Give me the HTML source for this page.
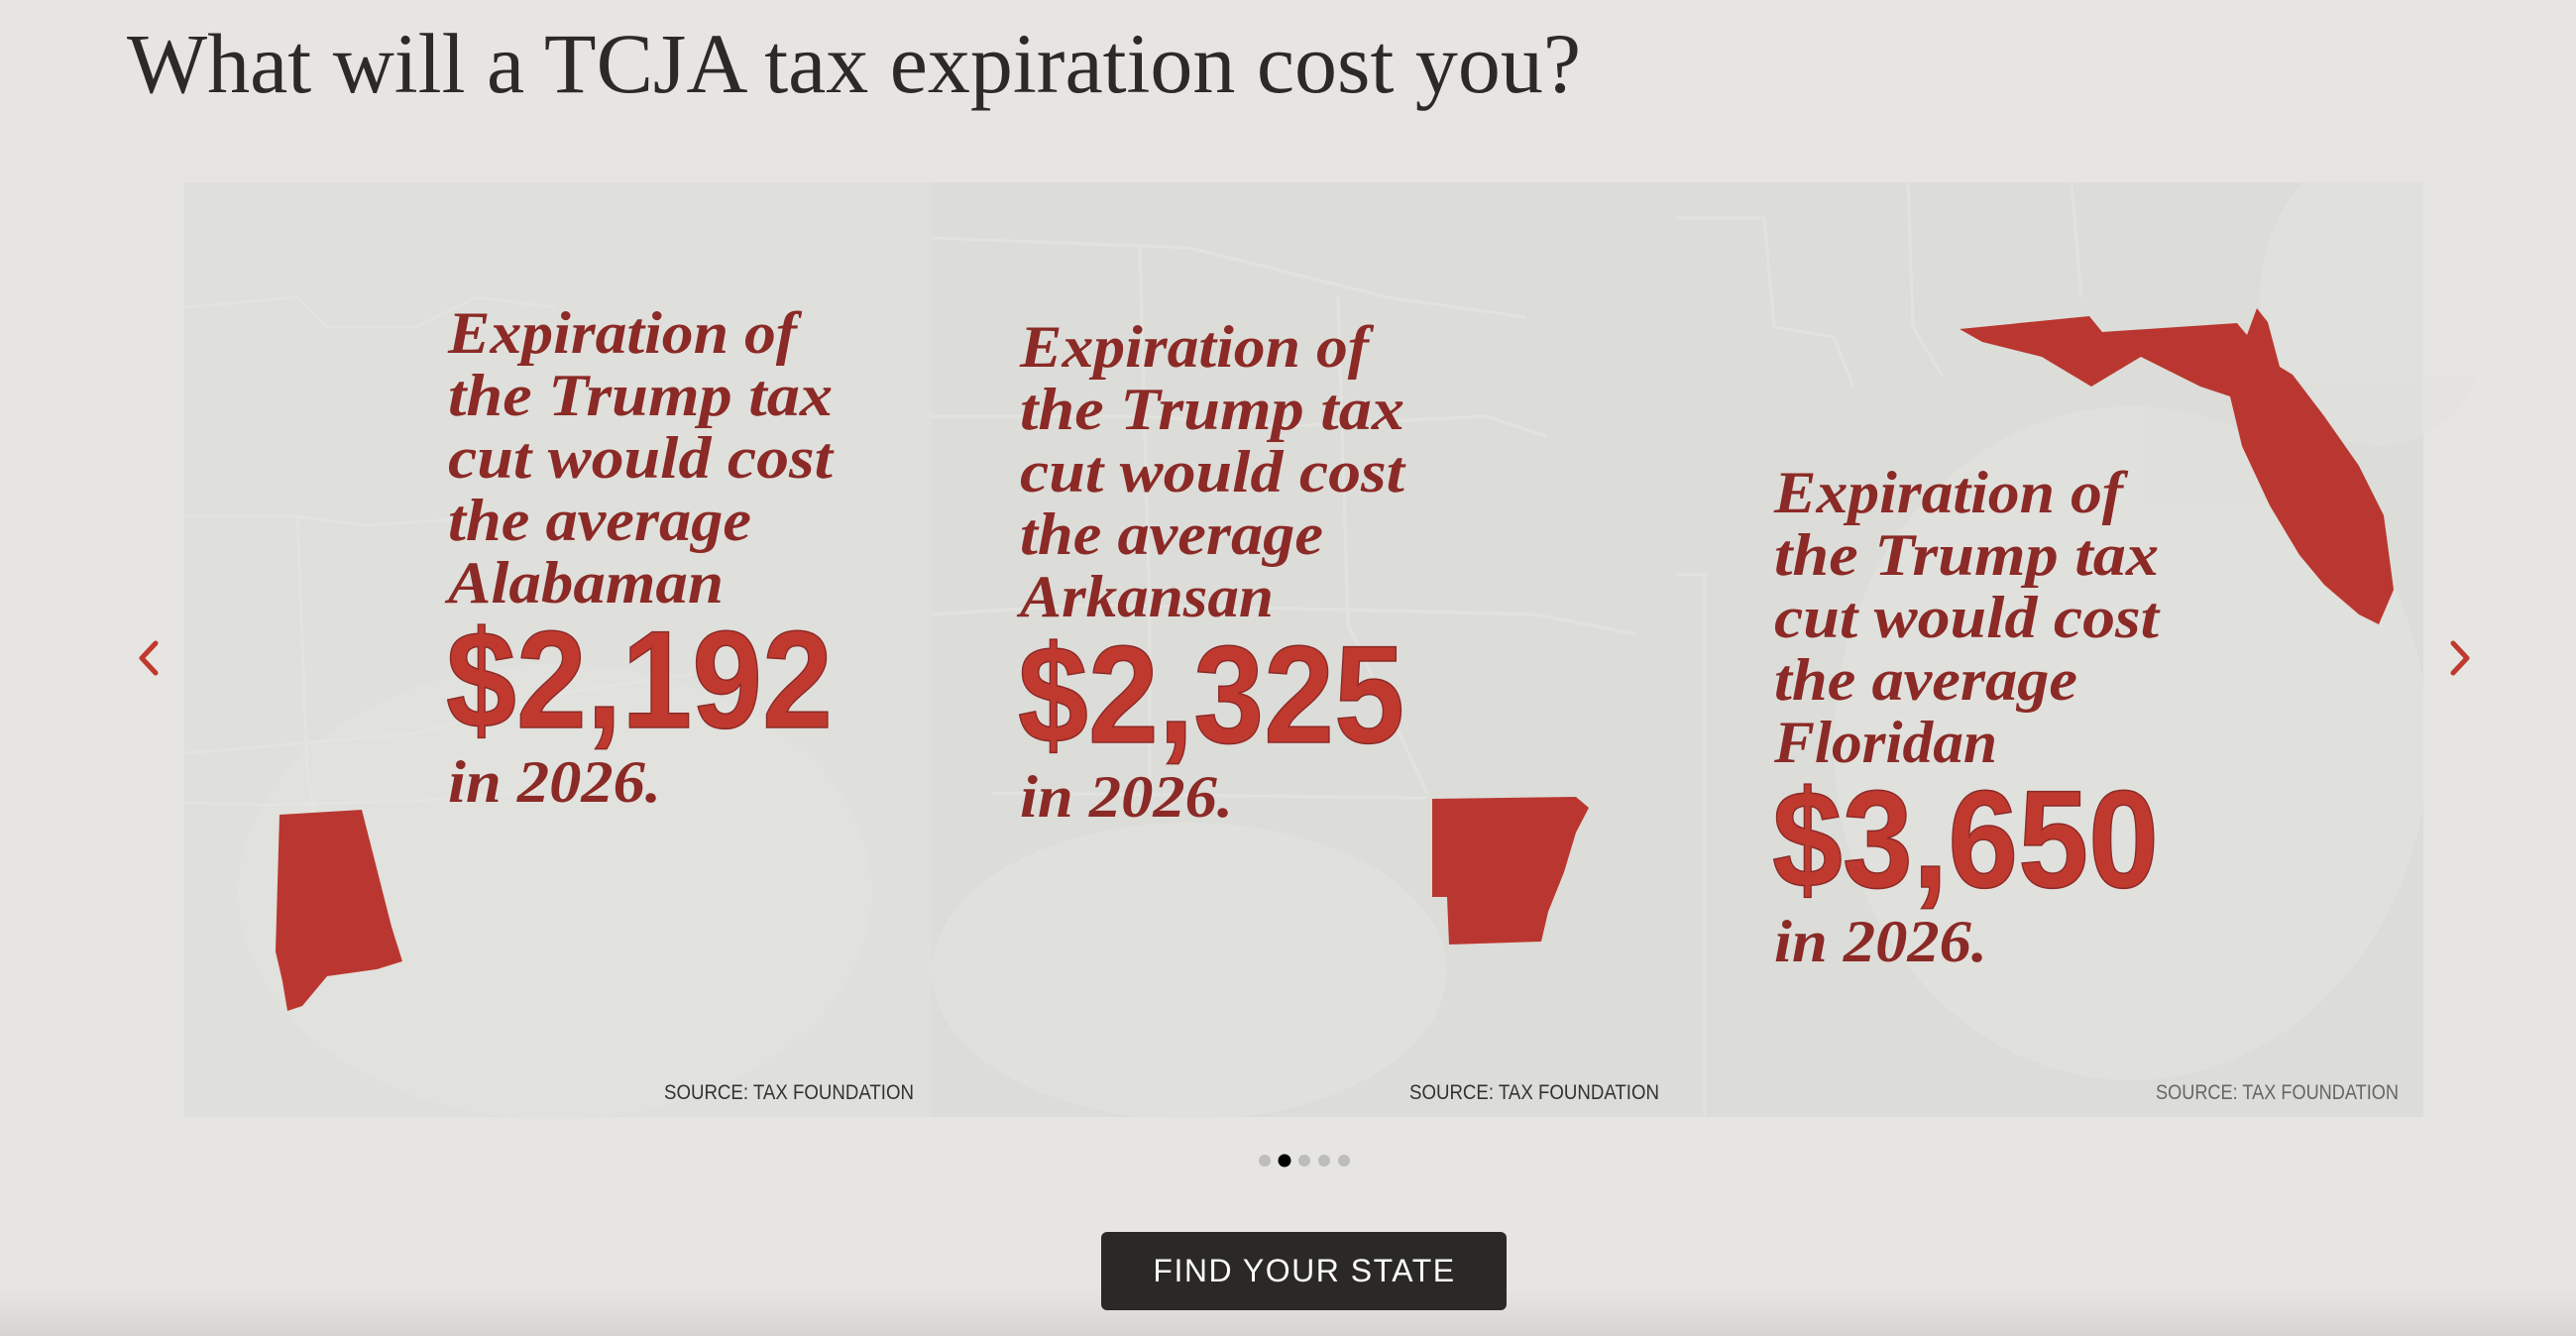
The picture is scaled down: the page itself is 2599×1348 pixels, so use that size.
<!DOCTYPE html>
<html><head><meta charset="utf-8"><style>
html,body{margin:0;padding:0;background:#e6e5e1;}
svg{display:block}
</style></head><body>
<svg width="2599" height="1348" viewBox="0 0 2599 1348" xmlns="http://www.w3.org/2000/svg">
<defs>
<linearGradient id="bot" x1="0" y1="0" x2="0" y2="1"><stop offset="0" stop-color="#e6e5e1"/><stop offset="1" stop-color="#d6d5d1"/></linearGradient>
</defs>
<rect width="2599" height="1348" fill="#e6e5e1"/>
<rect y="1300" width="2599" height="48" fill="url(#bot)"/>
<text x="128" y="93" font-family="Liberation Serif, serif" font-size="86" fill="#2b2a27" textLength="1467" lengthAdjust="spacingAndGlyphs">What will a TCJA tax expiration cost you?</text>

<!-- cards -->
<rect x="186" y="184" width="754" height="943" fill="#dfdfdb"/>
<rect x="940" y="184" width="752" height="943" fill="#dcdcd8"/>
<rect x="1692" y="184" width="753" height="943" fill="#dcdcd8"/>
<g fill="#e3e3df" opacity="0.5">
<ellipse cx="560" cy="900" rx="320" ry="230"/>
<ellipse cx="1200" cy="980" rx="260" ry="150"/>
<ellipse cx="2150" cy="750" rx="300" ry="340"/>
<ellipse cx="2400" cy="300" rx="120" ry="150"/>
</g>
<g stroke="#e6e6e3" stroke-width="3" fill="none" opacity="0.6">
<polyline points="186,310 300,300 330,330 420,330 480,300 560,310"/>
<polyline points="186,520 290,520 370,530 520,520"/>
<polyline points="300,520 310,780 330,900"/>
<polyline points="186,760 420,740 560,700 700,680"/>
<polyline points="186,810 270,812 420,808 520,800"/>
<polyline points="940,240 1200,250 1400,300 1540,320"/>
<polyline points="940,420 1150,420 1300,430 1500,420 1560,440"/>
<polyline points="940,620 1100,610 1350,615 1550,620 1650,640"/>
<polyline points="1150,250 1160,620 1160,800"/>
<polyline points="1350,300 1360,630 1440,800"/>
<polyline points="1000,800 1440,805"/>
<polyline points="1692,220 1780,220 1790,330 1850,340 1870,390"/>
<polyline points="1925,184 1930,330 1960,380"/>
<polyline points="2090,184 2100,300"/>
<polyline points="1692,580 1720,580 1720,1127"/>
</g>

<!-- states -->
<g fill="#b93730">
<polygon points="282,822 365,817 395,935 406,970 380,978 330,985 305,1015 290,1020 285,990 278,960"/>
<polygon points="1445,806 1590,804 1603,815 1590,840 1578,880 1562,920 1555,950 1462,953 1460,905 1445,905"/>
<polygon points="1977,332 2108,319 2121,335 2257,326 2267,338 2277,311 2288,325 2300,370 2313,378 2345,420 2380,470 2405,520 2415,595 2400,630 2380,620 2345,590 2320,560 2290,510 2262,450 2250,400 2220,390 2160,360 2110,390 2060,360 2000,345"/>
</g>

<!-- card text -->
<g font-family="Liberation Serif, serif" font-style="italic" font-weight="bold" font-size="60" fill="#8b2a26">
<text x="452" y="356" textLength="352" lengthAdjust="spacingAndGlyphs">Expiration of</text>
<text x="452" y="419" textLength="388" lengthAdjust="spacingAndGlyphs">the Trump tax</text>
<text x="452" y="482" textLength="388" lengthAdjust="spacingAndGlyphs">cut would cost</text>
<text x="452" y="545" textLength="306" lengthAdjust="spacingAndGlyphs">the average</text>
<text x="452" y="608" textLength="278" lengthAdjust="spacingAndGlyphs">Alabaman</text>
<text x="452" y="809" textLength="215" lengthAdjust="spacingAndGlyphs">in 2026.</text>

<text x="1029" y="370" textLength="352" lengthAdjust="spacingAndGlyphs">Expiration of</text>
<text x="1029" y="433" textLength="388" lengthAdjust="spacingAndGlyphs">the Trump tax</text>
<text x="1029" y="496" textLength="388" lengthAdjust="spacingAndGlyphs">cut would cost</text>
<text x="1029" y="559" textLength="306" lengthAdjust="spacingAndGlyphs">the average</text>
<text x="1029" y="622" textLength="256" lengthAdjust="spacingAndGlyphs">Arkansan</text>
<text x="1029" y="824" textLength="215" lengthAdjust="spacingAndGlyphs">in 2026.</text>

<text x="1790" y="517" textLength="352" lengthAdjust="spacingAndGlyphs">Expiration of</text>
<text x="1790" y="580" textLength="388" lengthAdjust="spacingAndGlyphs">the Trump tax</text>
<text x="1790" y="643" textLength="388" lengthAdjust="spacingAndGlyphs">cut would cost</text>
<text x="1790" y="706" textLength="306" lengthAdjust="spacingAndGlyphs">the average</text>
<text x="1790" y="769" textLength="225" lengthAdjust="spacingAndGlyphs">Floridan</text>
<text x="1790" y="970" textLength="215" lengthAdjust="spacingAndGlyphs">in 2026.</text>
</g>
<g font-family="Liberation Sans, sans-serif" font-weight="bold" font-size="140" fill="#c0392f" stroke="#8b2a26" stroke-width="1.5">
<text x="450" y="734" textLength="390" lengthAdjust="spacingAndGlyphs">$2,192</text>
<text x="1027" y="749" textLength="390" lengthAdjust="spacingAndGlyphs">$2,325</text>
<text x="1788" y="895" textLength="390" lengthAdjust="spacingAndGlyphs">$3,650</text>
</g>
<g font-family="Liberation Sans, sans-serif" font-size="21" fill="#333">
<text x="670" y="1109" textLength="252" lengthAdjust="spacingAndGlyphs">SOURCE: TAX FOUNDATION</text>
<text x="1422" y="1109" textLength="252" lengthAdjust="spacingAndGlyphs">SOURCE: TAX FOUNDATION</text>
<text x="2175" y="1109" textLength="245" lengthAdjust="spacingAndGlyphs" fill="#666">SOURCE: TAX FOUNDATION</text>
</g>

<!-- arrows -->
<polyline points="157,649 143,664 157,679" fill="none" stroke="#c0392f" stroke-width="5" stroke-linecap="round" stroke-linejoin="round"/>
<polyline points="2475,649 2489,664 2475,679" fill="none" stroke="#c0392f" stroke-width="5" stroke-linecap="round" stroke-linejoin="round"/>

<!-- dots -->
<g fill="#bdbdbb">
<circle cx="1276" cy="1171" r="6"/><circle cx="1316" cy="1171" r="6"/><circle cx="1336" cy="1171" r="6"/><circle cx="1356" cy="1171" r="6"/>
</g>
<circle cx="1296" cy="1171" r="6.5" fill="#000"/>

<!-- button -->
<rect x="1111" y="1243" width="409" height="79" rx="6" fill="#2a2925"/>
<text x="1316" y="1293" text-anchor="middle" font-family="Liberation Sans, sans-serif" font-size="32" fill="#fff" letter-spacing="1.5">FIND YOUR STATE</text>
</svg>
</body></html>
